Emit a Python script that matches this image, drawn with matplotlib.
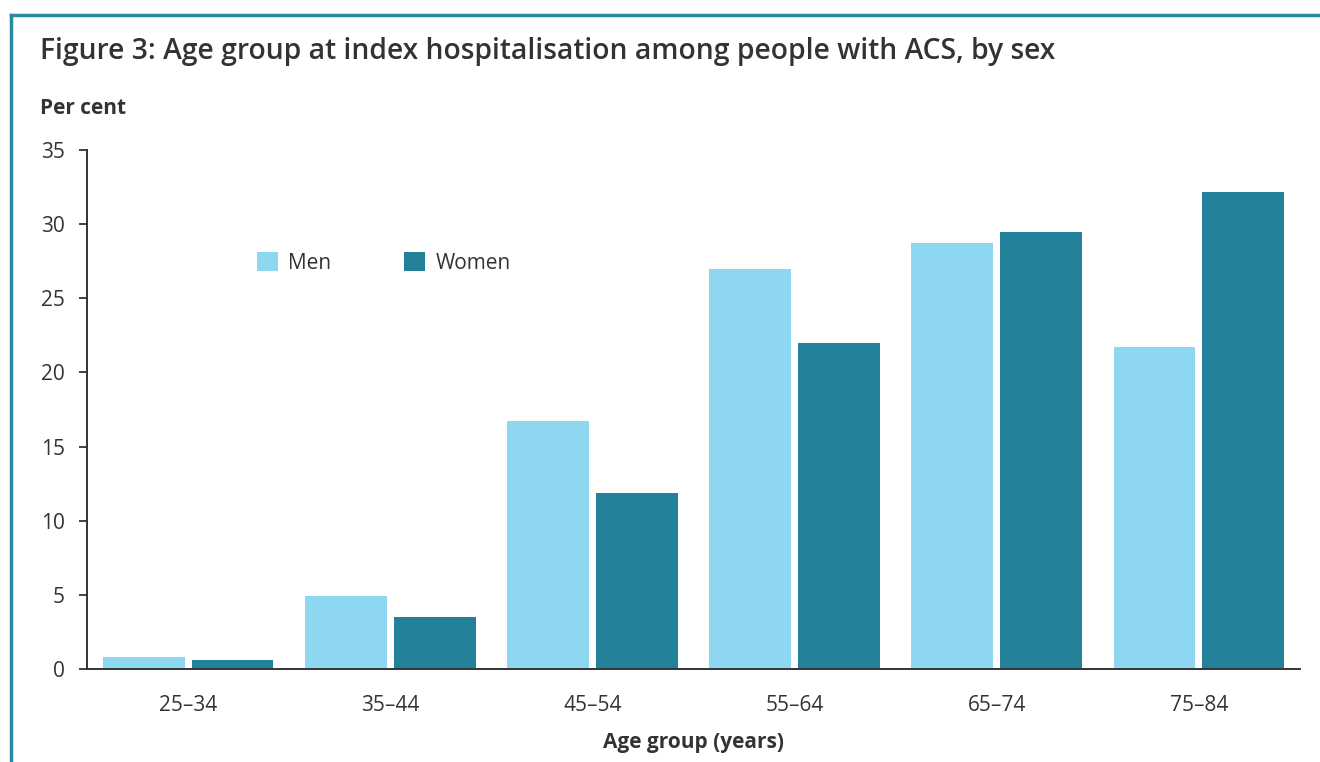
import numpy as np
import matplotlib
matplotlib.use('Agg')
import matplotlib.pyplot as plt
from matplotlib.lines import Line2D

plt.rcParams['font.family'] = ['Open Sans', 'DejaVu Sans']

age_groups = ['25–34', '35–44', '45–54', '55–64', '65–74', '75–84']
men = [0.8, 4.9, 16.7, 27.0, 28.7, 21.7]
women = [0.6, 3.5, 11.9, 22.0, 29.5, 32.2]

men_color = '#8DD8F0'
women_color = '#23819A'
text_color = '#333333'
frame_color = '#2A8A9E'

fig = plt.figure(figsize=(13.2, 7.62), dpi=100)
ax = fig.add_axes([87/1320, 1 - 669/762, (1300 - 87)/1320, (669 - 150)/762])

x = np.arange(len(age_groups))
w = 0.405
ax.bar(x - 0.22, men, width=w, color=men_color, label='Men')
ax.bar(x + 0.22, women, width=w, color=women_color, label='Women')

ax.set_xlim(-0.5, len(age_groups) - 0.5)
ax.set_ylim(0, 35)
ax.set_yticks(range(0, 36, 5))
ax.set_xticks(x)
ax.set_xticklabels(age_groups)
ax.tick_params(axis='x', length=0, pad=19, labelsize=15, colors=text_color)
ax.tick_params(axis='y', length=6, width=1.3, pad=10, labelsize=15, colors=text_color)
for s in ['top', 'right']:
    ax.spines[s].set_visible(False)
for s in ['left', 'bottom']:
    ax.spines[s].set_color(text_color)
    ax.spines[s].set_linewidth(1.4)

ax.set_xlabel('Age group (years)', fontsize=15, fontweight='bold', color=text_color, labelpad=11)

fig.text(40/1320, 1 - 51/762, 'Figure 3: Age group at index hospitalisation among people with ACS, by sex',
         fontsize=20.3, fontweight='semibold', color=text_color, va='center', ha='left')
fig.text(40/1320, 1 - 109/762, 'Per cent', fontsize=15, fontweight='bold', color=text_color,
         va='center', ha='left')

leg = fig.legend(loc='center left', bbox_to_anchor=(257/1320, 1 - 263/762), ncol=2, frameon=False,
                 fontsize=15, handlelength=1.0, handleheight=1.0, handletextpad=0.5,
                 columnspacing=3.5, borderpad=0, borderaxespad=0)
for t in leg.get_texts():
    t.set_color(text_color)

# frame lines (left and top)
fig.add_artist(Line2D([11/1320, 11/1320], [0, 1 - 15/762], color=frame_color, lw=2.5,
                      transform=fig.transFigure, solid_capstyle='projecting'))
fig.add_artist(Line2D([11/1320, 1], [1 - 15/762, 1 - 15/762], color=frame_color, lw=2.5,
                      transform=fig.transFigure, solid_capstyle='projecting'))

fig.savefig('out.png', dpi=100)
